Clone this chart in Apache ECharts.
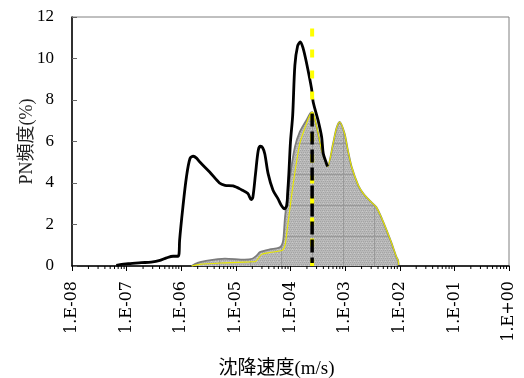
<!DOCTYPE html>
<html>
<head>
<meta charset="utf-8">
<script src="https://cdn.jsdelivr.net/npm/echarts@6/dist/echarts.min.js"></script>
<style>
html,body{margin:0;padding:0;background:#fff;}
#chart{width:524px;height:378px;}
</style>
</head>
<body>
<div id="chart"></div>
<script>
// ---- data (x given as log10 of settling speed in m/s) ----
const blackLog = [-7.19,-6.97,-6.73,-6.55,-6.39,-6.27,-6.15,-6.06,-6.04,-6.03,-5.97,-5.905,-5.84,-5.78,-5.72,-5.66,-5.48,-5.30,-5.20,-5.05,-4.90,-4.78,-4.72,-4.69,-4.64,-4.59,-4.55,-4.51,-4.47,-4.41,-4.32,-4.23,-4.17,-4.11,-4.07,-4.05,-4.03,-4.00,-3.96,-3.92,-3.87,-3.82,-3.77,-3.71,-3.615,-3.585,-3.495,-3.43,-3.40,-3.34,-3.32];
const blackVal = [0.03,0.11,0.16,0.19,0.27,0.39,0.47,0.47,0.6,1.24,2.84,4.29,5.18,5.29,5.2,5.01,4.53,4.0,3.89,3.86,3.68,3.49,3.2,3.3,4.45,5.58,5.77,5.7,5.4,4.45,3.65,3.25,2.93,2.76,2.9,3.6,4.45,6.0,7.26,9.67,10.6,10.8,10.5,9.83,8.55,7.9,7.02,6.22,5.42,4.93,4.8];

const grayLeftLog = [-5.81,-5.70,-5.57,-5.20,-4.84,-4.70,-4.62,-4.56,-4.38,-4.22,-4.16,-4.13,-4.10,-4.01,-3.92,-3.83,-3.71,-3.63];
const grayLeftVal = [0,0.15,0.24,0.36,0.31,0.35,0.5,0.67,0.8,0.87,1.0,1.3,2.36,4.29,5.73,6.46,7.02,7.38];

const yellowLeftLog = [-5.81,-5.66,-5.20,-4.75,-4.64,-4.53,-4.38,-4.15,-4.10,-4.07,-3.95,-3.83,-3.74,-3.65];
const yellowLeftVal = [0,0.08,0.15,0.2,0.22,0.56,0.65,0.76,1.0,1.56,3.97,5.9,6.62,7.25];

const rightLog = [-3.60,-3.52,-3.43,-3.37,-3.32,-3.22,-3.16,-3.10,-3.01,-2.95,-2.88,-2.76,-2.67,-2.55,-2.43,-2.33,-2.24,-2.15,-2.06,-2.03,-2.02];
const rightVal = [7.42,6.7,5.58,5.1,4.8,5.9,6.62,6.94,6.38,5.58,4.77,3.89,3.5,3.15,2.84,2.3,1.72,1.1,0.43,0.27,0.05];

const medianLog = -3.604;       // vertical marker position
const yellowMarkTop = 11.44;
const blackMarkTop = 7.35;
const blackMarkBottom = 0.15;

const xTickLabels = ['1.E-08','1.E-07','1.E-06','1.E-05','1.E-04','1.E-03','1.E-02','1.E-01','1.E+00'];
const minorFactors = [2,3,4,5,6,7,8,9];
const decadeExps = [-8,-7,-6,-5,-4,-3,-2,-1];

// ---- build series data ----
const toPts = (lx, vy) => lx.map((l, i) => [Math.pow(10, l), vy[i]]);
const blackData = toPts(blackLog, blackVal);
const grayData = toPts(grayLeftLog.concat(rightLog), grayLeftVal.concat(rightVal));
const yellowData = toPts(yellowLeftLog.concat(rightLog), yellowLeftVal.concat(rightVal));
const medianX = Math.pow(10, medianLog);
const minorTickData = [];
decadeExps.forEach(e => minorFactors.forEach(f => minorTickData.push([f * Math.pow(10, e), 0])));

// texture for the gray fill
const tile = document.createElement('canvas');
tile.width = 31; tile.height = 31;
const tc = tile.getContext('2d');
tc.fillStyle = '#b9b9b9';
tc.fillRect(0, 0, 31, 31);
tc.fillStyle = '#a4a4a4';
for (let yy = 0; yy < 31; yy += 2) for (let xx = (yy % 4 === 0 ? 0 : 1); xx < 31; xx += 2) tc.fillRect(xx, yy, 1, 1);
tc.fillStyle = '#cacaca';
for (let yy = 1; yy < 31; yy += 4) for (let xx = 1; xx < 31; xx += 4) tc.fillRect(xx, yy, 1, 1);
tc.fillStyle = '#999999';
tc.fillRect(2, 0, 1, 31);
tc.fillRect(0, 19, 31, 1);

const serif = "'Liberation Serif', 'Noto Sans CJK JP', serif";
const serifW = "'DejaVu Serif', 'Noto Sans CJK JP', serif";

const chart = echarts.init(document.getElementById('chart'), null, {renderer: 'canvas'});
chart.setOption({
  animation: false,
  backgroundColor: '#fff',
  grid: {left: 72, right: 15, top: 17, bottom: 112, show: true, borderColor: '#808080', borderWidth: 1, containLabel: false, outerBoundsMode: 'none'},
  xAxis: {
    type: 'log', logBase: 10, min: 1e-8, max: 1, splitNumber: 8,
    name: '沈降速度(m/s)', nameLocation: 'middle', nameGap: 94, nameMoveOverlap: false,
    nameTextStyle: {fontFamily: serif, fontSize: 19, color: '#000', padding: [0, 28, 0, 0]},
    axisLine: {show: true, lineStyle: {color: '#000', width: 1.5}},
    axisTick: {show: true, inside: false, length: 5, lineStyle: {color: '#000'}},
    axisLabel: {rotate: 90, margin: 15, fontFamily: serifW, fontSize: 16, color: '#000',
      formatter: v => xTickLabels[Math.round(Math.log10(v)) + 8]},
    splitLine: {show: false}
  },
  yAxis: {
    type: 'value', min: 0, max: 12, interval: 2,
    name: 'PN頻度(%)', nameLocation: 'middle', nameGap: 36, nameMoveOverlap: false,
    nameTextStyle: {fontFamily: serif, fontSize: 18, color: '#222'},
    axisLine: {show: true, lineStyle: {color: '#000', width: 1.5}},
    axisTick: {show: true, inside: true, length: 5, lineStyle: {color: '#666'}},
    axisLabel: {margin: 18, fontFamily: serif, fontSize: 17, color: '#000'},
    splitLine: {show: false}
  },
  series: [
    {
      type: 'line', data: grayData, smooth: 0.25, symbol: 'none', z: 2,
      lineStyle: {color: '#7c7c7c', width: 1.8},
      areaStyle: {color: {image: tile, repeat: 'repeat'}, opacity: 1}
    },
    {
      type: 'line', data: yellowData, smooth: 0.25, symbol: 'none', z: 3,
      lineStyle: {color: '#e8e800', width: 1.1}
    },
    {
      type: 'line', data: blackData, smooth: 0.3, symbol: 'none', z: 4,
      lineStyle: {color: '#000', width: 2.8}
    },
    {
      type: 'line', data: [[medianX, yellowMarkTop], [medianX, 0]], symbol: 'none', z: 5,
      lineStyle: {color: '#ffff00', width: 4, type: [8, 13]}
    },
    {
      type: 'line', data: [[medianX, blackMarkTop], [medianX, blackMarkBottom]], symbol: 'none', z: 6,
      lineStyle: {color: '#000', width: 3.5, type: [13, 5]}
    },
    {
      type: 'custom', data: minorTickData, z: 7, clip: false, silent: true,
      encode: {x: 0, y: 1},
      renderItem: (params, api) => {
        const p = api.coord([api.value(0), 0]);
        return {type: 'line', shape: {x1: p[0], y1: p[1], x2: p[0], y2: p[1] + 3}, style: {stroke: '#000', lineWidth: 1}};
      }
    }
  ]
});
</script>
</body>
</html>
